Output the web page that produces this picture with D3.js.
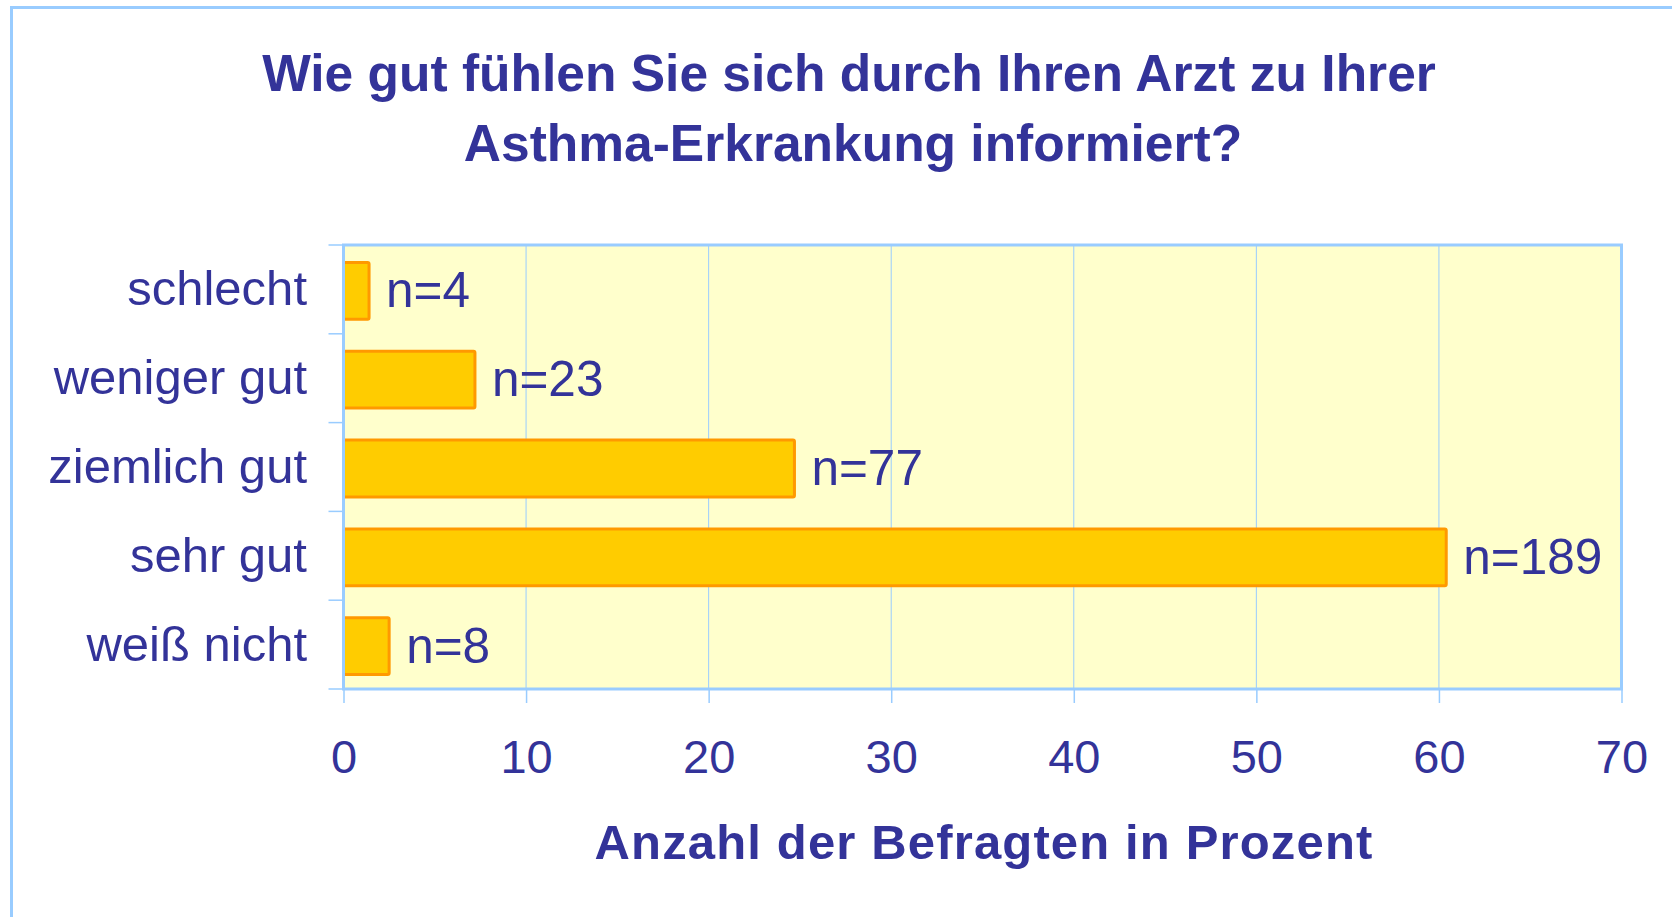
<!DOCTYPE html>
<html>
<head>
<meta charset="utf-8">
<script src="https://cdn.jsdelivr.net/npm/d3@7"></script>
<style>
  body { margin: 0; background: #fff; }
  text { font-family: "Liberation Sans", Arial, sans-serif; fill: #333399; }
</style>
</head>
<body>
<script>
// data (percent of respondents)
const categories = ["schlecht", "weniger gut", "ziemlich gut", "sehr gut", "weiß nicht"];
const percents = [1.4, 7.2, 24.7, 60.4, 2.5];
const counts = ["n=4", "n=23", "n=77", "n=189", "n=8"];
const xTicks = [0, 10, 20, 30, 40, 50, 60, 70];

const W = 1672, H = 917;
const plotL = 343.5, plotR = 1621.5, plotT = 245, plotB = 689;

const svg = d3.select("body").append("svg").attr("width", W).attr("height", H);

// outer frame (only left/top edges visible)
svg.append("rect")
  .attr("x", 11.5).attr("y", 7.5)
  .attr("width", W + 20).attr("height", H + 20)
  .attr("fill", "none").attr("stroke", "#99ccff").attr("stroke-width", 3);

const x = d3.scaleLinear().domain([0, 70]).range([plotL, plotR]);
const y = d3.scaleBand().domain(categories).range([plotT, plotB])
  .paddingInner(0.36).paddingOuter(0.18);

// plot area
svg.append("rect")
  .attr("x", plotL).attr("y", plotT)
  .attr("width", plotR - plotL).attr("height", plotB - plotT)
  .attr("fill", "#ffffcc");

// grid
svg.append("g").selectAll("line")
  .data(xTicks.slice(1, -1))
  .enter().append("line")
  .attr("x1", d => x(d)).attr("x2", d => x(d))
  .attr("y1", plotT).attr("y2", plotB)
  .attr("stroke", "#99ccff").attr("stroke-width", 1);

// x axis
const xAxis = d3.axisBottom(x).tickValues(xTicks).tickSize(14).tickPadding(37);
const gx = svg.append("g")
  .attr("transform", "translate(0," + plotB + ")")
  .call(xAxis);
gx.select(".domain").remove();
gx.selectAll(".tick line").attr("stroke", "#99ccff").attr("stroke-width", 1.5);
gx.selectAll(".tick text")
  .attr("font-size", 47)
  .attr("font-family", "Liberation Sans, Arial, sans-serif")
  .attr("fill", "#333399");

// y ticks at band boundaries
const step = y.step();
svg.append("g").selectAll("line")
  .data(d3.range(categories.length + 1))
  .enter().append("line")
  .attr("x1", plotL - 15).attr("x2", plotL)
  .attr("y1", i => plotT + i * step).attr("y2", i => plotT + i * step)
  .attr("stroke", "#99ccff").attr("stroke-width", 1.5);

// category labels
svg.append("g").selectAll("text")
  .data(categories)
  .enter().append("text")
  .attr("x", 307)
  .attr("y", d => y(d) + y.bandwidth() / 2 + 16)
  .attr("text-anchor", "end")
  .attr("font-size", 49)
  .text(d => d);

// bars
svg.append("g").selectAll("rect")
  .data(categories)
  .enter().append("rect")
  .attr("x", x(0))
  .attr("y", d => y(d) + 1.5)
  .attr("width", (d, i) => x(percents[i]) - x(0))
  .attr("height", y.bandwidth())
  .attr("fill", "#ffcc00")
  .attr("stroke", "#ff9900")
  .attr("stroke-width", 3)
  .attr("rx", 1.5);

// count labels
svg.append("g").selectAll("text")
  .data(categories)
  .enter().append("text")
  .attr("x", (d, i) => x(percents[i]) + 17)
  .attr("y", d => y(d) + y.bandwidth() / 2 + 18)
  .attr("font-size", 49.5)
  .text((d, i) => counts[i]);

// plot border
svg.append("rect")
  .attr("x", plotL).attr("y", plotT)
  .attr("width", plotR - plotL).attr("height", plotB - plotT)
  .attr("fill", "none").attr("stroke", "#99ccff").attr("stroke-width", 3);

// title
const title = svg.append("text")
  .attr("text-anchor", "middle")
  .attr("font-size", 51.5)
  .attr("font-weight", "bold");
title.append("tspan").attr("x", 849).attr("y", 90.5)
  .text("Wie gut fühlen Sie sich durch Ihren Arzt zu Ihrer");
title.append("tspan").attr("x", 853).attr("y", 160.5)
  .text("Asthma-Erkrankung informiert?");

// x axis title
svg.append("text")
  .attr("x", 984).attr("y", 859)
  .attr("text-anchor", "middle")
  .attr("font-size", 49)
  .attr("font-weight", "bold")
  .attr("letter-spacing", 1.15)
  .text("Anzahl der Befragten in Prozent");
</script>
</body>
</html>
